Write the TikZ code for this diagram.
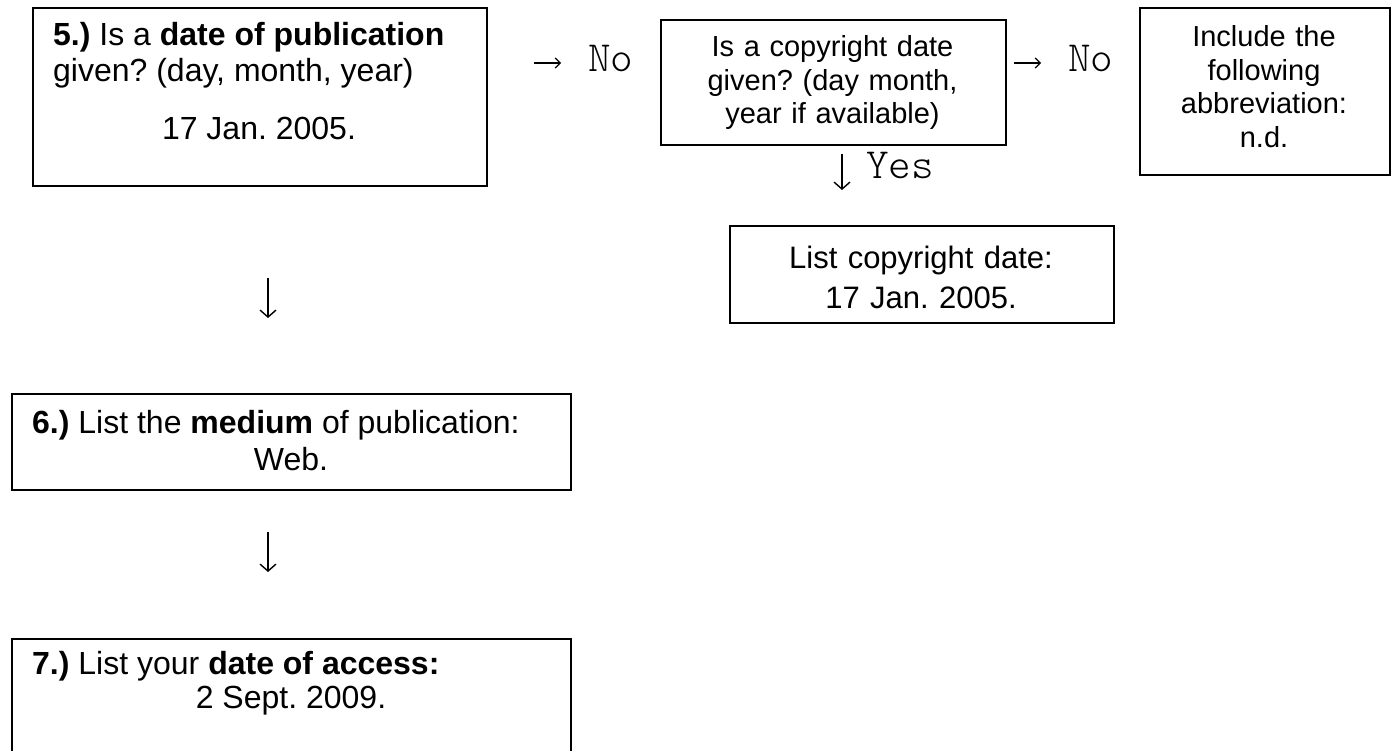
\documentclass[tikz,border=0pt]{standalone}
\usepackage{fontspec}
\setmainfont{Liberation Sans}
\newfontfamily\lightmono{lmmonolt10-regular.otf}
\usetikzlibrary{arrows.meta}
\frenchspacing
\begin{document}
\begin{tikzpicture}[x=1pt,y=-1pt,
  box/.style={draw=black, line width=1.6pt, inner sep=0pt, anchor=north west},
  bigtxt/.style={inner sep=0pt, font=\fontsize{32}{36.5}\selectfont\frenchspacing},
  midtxt/.style={inner sep=0pt, font=\fontsize{29}{33.5}\selectfont\frenchspacing},
  lsttxt/.style={inner sep=0pt, font=\fontsize{31}{40}\selectfont\frenchspacing},
  mono/.style={inner sep=0pt, anchor=base west, font=\fontsize{43}{46}\lightmono},
  hflow/.style={line width=1.2pt, -{Straight Barb[length=5pt,width=10pt]}},
  vflow/.style={line width=1.4pt, -{Straight Barb[length=7pt,width=16pt]}}]
\clip (0,0) rectangle (1396,751);
\fill[white] (0,0) rectangle (1396,751);

% boxes
\node[box, minimum width=454pt, minimum height=178pt] (b5) at (32,7) {};
\node[box, minimum width=345pt, minimum height=125pt] (bc) at (660,19) {};
\node[box, minimum width=250pt, minimum height=167pt] (bn) at (1139,7) {};
\node[box, minimum width=384pt, minimum height=97pt] (bl) at (729,225) {};
\node[box, minimum width=559pt, minimum height=96pt] (b6) at (11,393) {};
\node[box, minimum width=559pt, minimum height=140pt] (b7) at (11,638) {};

% texts
\node[bigtxt, anchor=base west] (t5a) at (53,46) {\textbf{5.)} Is a \textbf{date of publication}};
\node[bigtxt, anchor=base west] (t5b) at (53,82) {given? (day, month, year)};
\node[bigtxt, anchor=base] (t5c) at (259,140) {17 Jan. 2005.};

\node[midtxt, anchor=base, text width=330pt, align=center] (tc) at (832.5,57)
  {Is a copyright date\\ given? (day month,\\ year if available)};
\node[midtxt, anchor=base, text width=240pt, align=center] (tn) at (1264,47)
  {Include the\\ following\\ abbreviation:\\ n.d.};
\node[lsttxt, anchor=base, text width=370pt, align=center] (tl) at (921,268)
  {List copyright date:\\ 17 Jan. 2005.};

\node[bigtxt, anchor=base west] (t6a) at (32,433) {\textbf{6.)} List the \textbf{medium} of publication:};
\node[bigtxt, anchor=base] (t6b) at (291,470) {Web.};
\node[bigtxt, anchor=base west] (t7a) at (32,674) {\textbf{7.)} List your \textbf{date of access:}};
\node[bigtxt, anchor=base] (t7b) at (291,708) {2 Sept. 2009.};

% labels
\node[mono] (no1) at (588,72) {No};
\node[mono] (no2) at (1068,72) {No};
\node[mono] (yes) at (866,179) {Yes};

% arrows
\coordinate (r1s) at (534,63);  \coordinate (r1e) at (561,63);
\coordinate (r2s) at (1014,63); \coordinate (r2e) at (1041,63);
\coordinate (dys) at (842,154); \coordinate (dye) at (842,190);
\coordinate (d1s) at (268,278); \coordinate (d1e) at (268,318);
\coordinate (d2s) at (268,532); \coordinate (d2e) at (268,572);
\draw[hflow] (r1s) -- (r1e);
\draw[hflow] (r2s) -- (r2e);
\draw[vflow] (dys) -- (dye);
\draw[vflow] (d1s) -- (d1e);
\draw[vflow] (d2s) -- (d2e);
\end{tikzpicture}
\end{document}
